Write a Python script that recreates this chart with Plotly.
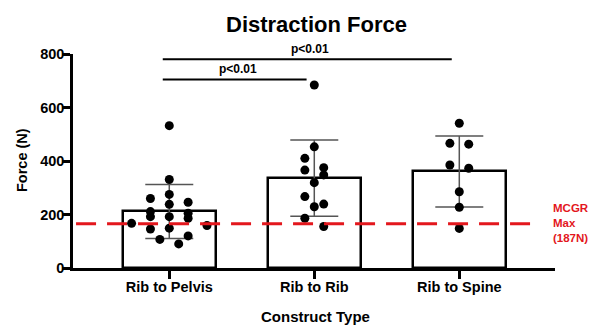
import plotly.graph_objects as go
import numpy as np

# ---------------- data ----------------
categories = ["Rib to Pelvis", "Rib to Rib", "Rib to Spine"]
rib_to_pelvis = [532, 331, 275, 260, 246, 238, 211, 205, 192, 192, 186, 167, 159, 149, 146, 120, 107, 90]
rib_to_rib = [684, 453, 410, 375, 366, 348, 319, 267, 239, 229, 186, 155]
rib_to_spine = [541, 466, 463, 385, 373, 285, 227, 148]
groups = [rib_to_pelvis, rib_to_rib, rib_to_spine]
mcgr_max = 165          # position of dashed reference line (N)
y_ticks = [0, 200, 400, 600, 800]
sig_labels = ["p<0.01", "p<0.01"]

# ---------------- styling ----------------
FONT = "Liberation Sans, Arial, sans-serif"
RED = "#e3171d"
W, H = 594, 326
ML, MR, MT, MB = 73, 39, 54, 58
XR = [-0.664, 2.66]
YR = [0, 800]
PW, PH = W - ML - MR, H - MT - MB


def swarm(vals, center, thresh=36, step=0.13):
    order = sorted(range(len(vals)), key=lambda i: -vals[i])
    rows, cur = [], []
    for i in order:
        if cur and vals[cur[0]] - vals[i] >= thresh:
            rows.append(cur)
            cur = []
        cur.append(i)
    rows.append(cur)
    xs = [center] * len(vals)
    for row in rows:
        k = len(row)
        slots = [(j - (k - 1) / 2) * step for j in range(k)]
        slots = sorted(slots, key=lambda s: (abs(s), s))
        for idx, s in zip(row, slots):
            xs[idx] = center + s
    return xs


means = [float(np.mean(g)) for g in groups]
sds = [float(np.std(g, ddof=1)) for g in groups]
xpos = list(range(len(categories)))

fig = go.Figure()
fig.add_trace(go.Bar(
    x=xpos, y=means, width=0.645,
    marker=dict(color="white", line=dict(color="black", width=2.5)),
    error_y=dict(type="data", array=sds, visible=True, color="#555555",
                 thickness=1.5, width=24),
    showlegend=False, hoverinfo="skip",
))
for i, g in enumerate(groups):
    fig.add_trace(go.Scatter(
        x=swarm(g, xpos[i]), y=g, mode="markers",
        marker=dict(color="black", size=9, line=dict(width=0)),
        showlegend=False, cliponaxis=False,
    ))

# dashed reference line
fig.add_shape(type="line", xref="x", yref="y", x0=-0.643, x1=2.556,
              y0=mcgr_max, y1=mcgr_max,
              line=dict(color=RED, width=3, dash="20px,11px"), layer="above")
fig.add_annotation(x=2.632, y=mcgr_max + 3, xref="x", yref="y",
                   text="<b>MCGR<br>Max<br>(187N)</b>", showarrow=False,
                   xanchor="left", yanchor="middle", align="left",
                   font=dict(family=FONT, size=11.5, color=RED))

# significance bars
sig = [(-0.045, 1.948, 780, sig_labels[0]), (-0.045, 0.947, 705, sig_labels[1])]
for x0, x1, yv, lab in sig:
    fig.add_shape(type="line", xref="x", yref="y", x0=x0, x1=x1, y0=yv, y1=yv,
                  line=dict(color="black", width=2))
    fig.add_annotation(x=(x0 + x1) / 2 + 0.02, y=yv, xref="x", yref="y", text="<b>" + lab + "</b>",
                       showarrow=False, yanchor="bottom", yshift=1,
                       font=dict(family=FONT, size=12, color="black"))

# titles
fig.add_annotation(x=(316.7 - ML) / PW, y=((H - MB) - 25) / PH,
                   xref="paper", yref="paper", text="<b>Distraction Force</b>",
                   showarrow=False, xanchor="center", yanchor="middle",
                   font=dict(family=FONT, size=22, color="black"))
fig.add_annotation(x=(315 - ML) / PW, y=-(316.5 - (H - MB)) / PH,
                   xref="paper", yref="paper", text="<b>Construct Type</b>",
                   showarrow=False, xanchor="center", yanchor="middle",
                   font=dict(family=FONT, size=15, color="black"))
fig.add_annotation(x=(22 - ML) / PW, y=((H - MB) - 160) / PH,
                   xref="paper", yref="paper", text="<b>Force (N)</b>", textangle=-90,
                   showarrow=False, xanchor="center", yanchor="middle",
                   font=dict(family=FONT, size=14.5, color="black"))

fig.update_layout(
    width=W, height=H, margin=dict(l=ML, r=MR, t=MT, b=MB),
    plot_bgcolor="white", paper_bgcolor="white",
    font=dict(family=FONT, color="black"),
    bargap=0,
)
fig.update_xaxes(range=XR, tickmode="array", tickvals=xpos,
                 ticktext=["<b>%s</b>" % c for c in categories],
                 showline=True, linecolor="black", linewidth=2.5,
                 ticks="outside", ticklen=8, tickwidth=2.5, tickcolor="black",
                 ticklabelstandoff=-4,
                 tickfont=dict(family=FONT, size=14.5, color="black"),
                 showgrid=False, zeroline=False)
fig.update_yaxes(range=YR, tickmode="array", tickvals=y_ticks,
                 ticktext=["<b>%d</b>" % v for v in y_ticks],
                 showline=True, linecolor="black", linewidth=2.5,
                 ticks="outside", ticklen=8, tickwidth=2.5, tickcolor="black",
                 ticklabelstandoff=-5,
                 tickfont=dict(family=FONT, size=14.5, color="black"),
                 showgrid=False, zeroline=False)

fig.write_html("out.html")
